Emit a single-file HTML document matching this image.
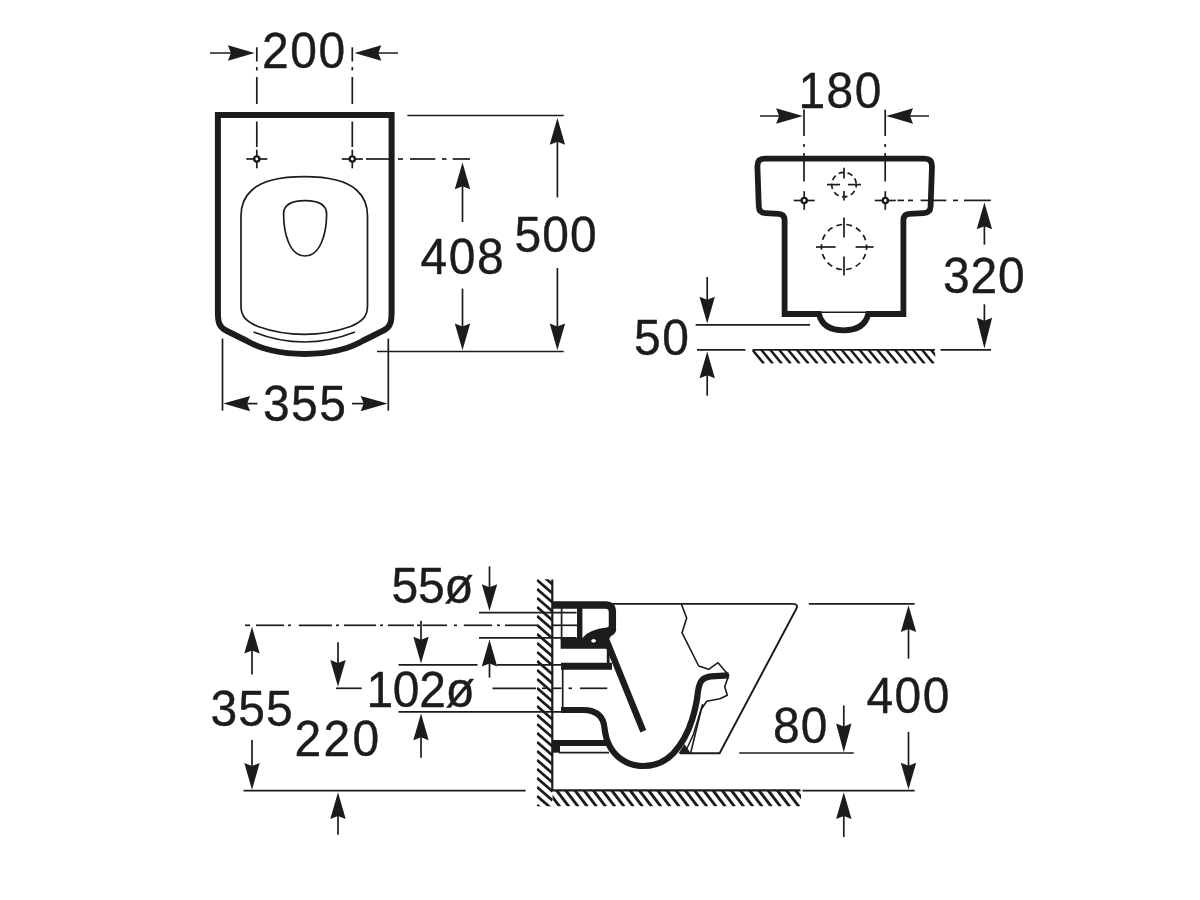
<!DOCTYPE html>
<html lang="en"><head><meta charset="utf-8"><title>Technical drawing</title>
<style>
html,body{margin:0;padding:0;background:#fff;}
body{width:1200px;height:900px;overflow:hidden;}
svg{display:block;will-change:transform;}
svg *{stroke:#1c1c1c;fill:none;stroke-linecap:butt;}
svg text{font-family:"Liberation Sans",Arial,Helvetica,sans-serif;fill:#1c1c1c;stroke:#1c1c1c;stroke-width:0.4;stroke-linejoin:round;}
svg .f{fill:#1c1c1c;stroke:none;}
</style></head><body>
<svg width="1200" height="900" viewBox="0 0 1200 900">
<g id="plan">
<line x1="256.8" y1="47.3" x2="256.8" y2="61.5" stroke-width="1.7" />
<line x1="256.8" y1="67.0" x2="256.8" y2="70.5" stroke-width="1.7" />
<line x1="256.8" y1="77.0" x2="256.8" y2="104.0" stroke-width="1.7" />
<line x1="256.8" y1="121.5" x2="256.8" y2="147.0" stroke-width="1.7" />
<line x1="352.3" y1="47.3" x2="352.3" y2="61.5" stroke-width="1.7" />
<line x1="352.3" y1="67.0" x2="352.3" y2="70.5" stroke-width="1.7" />
<line x1="352.3" y1="77.0" x2="352.3" y2="104.0" stroke-width="1.7" />
<line x1="352.3" y1="121.5" x2="352.3" y2="147.0" stroke-width="1.7" />
<circle cx="256.8" cy="159" r="2.6" style="fill:#fff" stroke-width="2.4"/>
<line x1="246.3" y1="159.0" x2="254.2" y2="159.0" stroke-width="1.7" />
<line x1="259.4" y1="159.0" x2="267.3" y2="159.0" stroke-width="1.7" />
<line x1="256.8" y1="149.7" x2="256.8" y2="156.4" stroke-width="1.7" />
<line x1="256.8" y1="161.6" x2="256.8" y2="168.3" stroke-width="1.7" />
<circle cx="352.3" cy="159" r="2.6" style="fill:#fff" stroke-width="2.4"/>
<line x1="341.8" y1="159.0" x2="349.7" y2="159.0" stroke-width="1.7" />
<line x1="354.9" y1="159.0" x2="362.8" y2="159.0" stroke-width="1.7" />
<line x1="352.3" y1="149.7" x2="352.3" y2="156.4" stroke-width="1.7" />
<line x1="352.3" y1="161.6" x2="352.3" y2="168.3" stroke-width="1.7" />
<path d="M217.90,115.1 H391.60 V312 C391.60,323 390.25,327.1 383.05,330.7 C376.75,333.9 369.75,337.4 363.45,340.5 C346.75,350.3 324.75,353.9 304.75,353.9 C284.75,353.9 262.75,350.3 246.05,340.5 C239.75,337.4 232.75,333.9 226.45,330.7 C219.25,327.1 217.90,323 217.90,312 Z" stroke-width="6.0" stroke-linejoin="miter"/>
<path d="M304.25,176.7 C280,176.7 262,181 252,190 C244,197 241,206 241,216 V306 C241,317 247,322 258,326.5 C272,331.5 288,334.4 304.25,334.4 C320.5,334.4 336.5,331.5 350.5,326.5 C361.5,322 367.5,317 367.5,306 V216 C367.5,206 364.5,197 356.5,190 C346.5,181 328.5,176.7 304.25,176.7 Z" stroke-width="1.7"/>
<path d="M253.5,332 Q304.25,352 355,332" stroke-width="1.7"/>
<path d="M305,200.6 C318,200.6 326.6,204 326.6,214 C326.6,232 321,256 305,256 C289,256 283.6,232 283.6,214 C283.6,204 292,200.6 305,200.6 Z" stroke-width="1.7"/>
<line x1="366.0" y1="159.0" x2="389.0" y2="159.0" stroke-width="1.7" />
<line x1="398.0" y1="159.0" x2="403.0" y2="159.0" stroke-width="1.7" />
<line x1="410.0" y1="159.0" x2="435.3" y2="159.0" stroke-width="1.7" />
<line x1="442.0" y1="159.0" x2="446.5" y2="159.0" stroke-width="1.7" />
<line x1="452.7" y1="159.0" x2="470.0" y2="159.0" stroke-width="1.7" />
<polygon class="f" points="254.7,53.0 227.9,45.3 230.9,53.0 227.9,60.7"/>
<line x1="249.7" y1="53.0" x2="210.0" y2="53.0" stroke-width="1.7" />
<polygon class="f" points="354.5,53.0 381.3,45.3 378.3,53.0 381.3,60.7"/>
<line x1="359.5" y1="53.0" x2="398.0" y2="53.0" stroke-width="1.7" />
<line x1="407.4" y1="115.5" x2="563.7" y2="115.5" stroke-width="1.7" />
<line x1="377.0" y1="351.5" x2="563.7" y2="351.5" stroke-width="1.7" />
<polygon class="f" points="462.5,162.5 454.8,189.3 462.5,186.3 470.2,189.3"/>
<line x1="462.5" y1="167.5" x2="462.5" y2="222.0" stroke-width="1.7" />
<polygon class="f" points="462.5,350.3 454.8,323.5 462.5,326.5 470.2,323.5"/>
<line x1="462.5" y1="345.3" x2="462.5" y2="288.6" stroke-width="1.7" />
<polygon class="f" points="557.4,118.0 549.7,144.8 557.4,141.8 565.1,144.8"/>
<line x1="557.4" y1="123.0" x2="557.4" y2="197.4" stroke-width="1.7" />
<polygon class="f" points="557.4,350.3 549.7,323.5 557.4,326.5 565.1,323.5"/>
<line x1="557.4" y1="345.3" x2="557.4" y2="268.0" stroke-width="1.7" />
<line x1="222.5" y1="338.6" x2="222.5" y2="410.7" stroke-width="1.7" />
<line x1="388.3" y1="338.6" x2="388.3" y2="410.7" stroke-width="1.7" />
<polygon class="f" points="223.3,403.6 250.1,395.9 247.1,403.6 250.1,411.3"/>
<line x1="228.3" y1="403.6" x2="257.5" y2="403.6" stroke-width="1.7" />
<polygon class="f" points="387.5,403.6 360.7,395.9 363.7,403.6 360.7,411.3"/>
<line x1="382.5" y1="403.6" x2="352.0" y2="403.6" stroke-width="1.7" />
</g>
<g id="rear">
<line x1="804.0" y1="109.6" x2="804.0" y2="136.0" stroke-width="1.7" />
<line x1="804.0" y1="144.0" x2="804.0" y2="147.0" stroke-width="1.7" />
<line x1="804.0" y1="153.0" x2="804.0" y2="181.5" stroke-width="1.7" />
<line x1="885.2" y1="109.6" x2="885.2" y2="136.0" stroke-width="1.7" />
<line x1="885.2" y1="144.0" x2="885.2" y2="147.0" stroke-width="1.7" />
<line x1="885.2" y1="153.0" x2="885.2" y2="181.5" stroke-width="1.7" />
<circle cx="804.2" cy="200.5" r="2.6" style="fill:#fff" stroke-width="2.4"/>
<line x1="793.7" y1="200.5" x2="801.6" y2="200.5" stroke-width="1.7" />
<line x1="806.8" y1="200.5" x2="814.7" y2="200.5" stroke-width="1.7" />
<line x1="804.2" y1="191.2" x2="804.2" y2="197.9" stroke-width="1.7" />
<line x1="804.2" y1="203.1" x2="804.2" y2="209.8" stroke-width="1.7" />
<circle cx="885.3" cy="200.5" r="2.6" style="fill:#fff" stroke-width="2.4"/>
<line x1="874.8" y1="200.5" x2="882.7" y2="200.5" stroke-width="1.7" />
<line x1="887.9" y1="200.5" x2="895.8" y2="200.5" stroke-width="1.7" />
<line x1="885.3" y1="191.2" x2="885.3" y2="197.9" stroke-width="1.7" />
<line x1="885.3" y1="203.1" x2="885.3" y2="209.8" stroke-width="1.7" />
<path d="M764.5,158.7 H924.5 Q932,158.7 932,166 L930.6,206.5 Q930.3,213 923.5,213.2 L909.5,213.8 Q903.4,214 903.4,220.5 V314 H868.3 C865.5,325.5 856,330.3 843.6,330.3 C831.2,330.3 821.7,325.5 818.9,314 H784.6 V220.5 Q784.6,214 778.5,213.8 L765.5,213.2 Q759,213 758.8,206.5 L757.4,166 Q757.4,158.7 764.5,158.7 Z" stroke-width="5.8" stroke-linejoin="miter"/>
<line x1="818.0" y1="312.2" x2="869.0" y2="312.2" stroke-width="1.6" />
<circle cx="844" cy="184.6" r="12.3" stroke-width="1.7" stroke-dasharray="5.5 3.6" stroke-dashoffset="2.5"/>
<line x1="827.0" y1="184.6" x2="840.0" y2="184.6" stroke-width="1.7" />
<line x1="848.0" y1="184.6" x2="861.0" y2="184.6" stroke-width="1.7" />
<line x1="844.0" y1="167.7" x2="844.0" y2="178.5" stroke-width="1.7" />
<line x1="844.0" y1="191.0" x2="844.0" y2="200.4" stroke-width="1.7" />
<circle cx="844" cy="247" r="22.6" stroke-width="1.7" stroke-dasharray="5.8 4.3" stroke-dashoffset="2.9"/>
<line x1="816.0" y1="247.0" x2="835.6" y2="247.0" stroke-width="1.7" />
<line x1="855.6" y1="247.0" x2="873.6" y2="247.0" stroke-width="1.7" />
<line x1="844.0" y1="217.5" x2="844.0" y2="237.5" stroke-width="1.7" />
<line x1="844.0" y1="256.5" x2="844.0" y2="275.5" stroke-width="1.7" />
<line x1="897.5" y1="200.4" x2="904.0" y2="200.4" stroke-width="1.7" />
<line x1="908.0" y1="200.4" x2="913.0" y2="200.4" stroke-width="1.7" />
<line x1="920.6" y1="200.4" x2="946.3" y2="200.4" stroke-width="1.7" />
<line x1="953.0" y1="200.4" x2="958.0" y2="200.4" stroke-width="1.7" />
<line x1="964.0" y1="200.4" x2="990.8" y2="200.4" stroke-width="1.7" />
<polygon class="f" points="802.9,116.0 776.1,108.3 779.1,116.0 776.1,123.7"/>
<line x1="797.9" y1="116.0" x2="760.0" y2="116.0" stroke-width="1.7" />
<polygon class="f" points="886.2,116.0 913.0,108.3 910.0,116.0 913.0,123.7"/>
<line x1="891.2" y1="116.0" x2="929.0" y2="116.0" stroke-width="1.7" />
<polygon class="f" points="984.4,202.4 976.7,229.2 984.4,226.2 992.1,229.2"/>
<line x1="984.4" y1="207.4" x2="984.4" y2="244.6" stroke-width="1.7" />
<polygon class="f" points="984.4,348.5 976.7,317.7 984.4,320.7 992.1,317.7"/>
<line x1="984.4" y1="343.5" x2="984.4" y2="304.3" stroke-width="1.7" />
<line x1="697.0" y1="349.9" x2="745.4" y2="349.9" stroke-width="1.7" />
<line x1="752.6" y1="349.9" x2="935.0" y2="349.9" stroke-width="1.7" />
<line x1="940.6" y1="349.9" x2="991.0" y2="349.9" stroke-width="1.7" />
<clipPath id="cr"><rect x="752.4" y="350" width="182.8" height="13.6" style="stroke:none"/></clipPath>
<g clip-path="url(#cr)">
<line x1="751.7" y1="349.0" x2="764.0" y2="363.8" stroke-width="2.5" />
<line x1="760.6" y1="349.0" x2="772.9" y2="363.8" stroke-width="2.5" />
<line x1="769.6" y1="349.0" x2="781.9" y2="363.8" stroke-width="2.5" />
<line x1="778.5" y1="349.0" x2="790.8" y2="363.8" stroke-width="2.5" />
<line x1="787.4" y1="349.0" x2="799.7" y2="363.8" stroke-width="2.5" />
<line x1="796.3" y1="349.0" x2="808.6" y2="363.8" stroke-width="2.5" />
<line x1="805.3" y1="349.0" x2="817.6" y2="363.8" stroke-width="2.5" />
<line x1="814.2" y1="349.0" x2="826.5" y2="363.8" stroke-width="2.5" />
<line x1="823.1" y1="349.0" x2="835.4" y2="363.8" stroke-width="2.5" />
<line x1="832.1" y1="349.0" x2="844.4" y2="363.8" stroke-width="2.5" />
<line x1="841.0" y1="349.0" x2="853.3" y2="363.8" stroke-width="2.5" />
<line x1="849.9" y1="349.0" x2="862.2" y2="363.8" stroke-width="2.5" />
<line x1="858.9" y1="349.0" x2="871.2" y2="363.8" stroke-width="2.5" />
<line x1="867.8" y1="349.0" x2="880.1" y2="363.8" stroke-width="2.5" />
<line x1="876.7" y1="349.0" x2="889.0" y2="363.8" stroke-width="2.5" />
<line x1="885.6" y1="349.0" x2="897.9" y2="363.8" stroke-width="2.5" />
<line x1="894.6" y1="349.0" x2="906.9" y2="363.8" stroke-width="2.5" />
<line x1="903.5" y1="349.0" x2="915.8" y2="363.8" stroke-width="2.5" />
<line x1="912.4" y1="349.0" x2="924.7" y2="363.8" stroke-width="2.5" />
<line x1="921.4" y1="349.0" x2="933.7" y2="363.8" stroke-width="2.5" />
<line x1="930.3" y1="349.0" x2="942.6" y2="363.8" stroke-width="2.5" />
</g>
<line x1="695.7" y1="324.9" x2="810.0" y2="324.9" stroke-width="1.7" />
<polygon class="f" points="707.2,323.5 699.5,296.7 707.2,299.7 714.9,296.7"/>
<line x1="707.2" y1="318.5" x2="707.2" y2="277.0" stroke-width="1.7" />
<polygon class="f" points="707.2,351.5 699.5,378.3 707.2,375.3 714.9,378.3"/>
<line x1="707.2" y1="356.5" x2="707.2" y2="395.7" stroke-width="1.7" />
</g>
<g id="side">
<line x1="245.0" y1="625.3" x2="250.0" y2="625.3" stroke-width="1.7" />
<line x1="256.0" y1="625.3" x2="284.0" y2="625.3" stroke-width="1.7" />
<line x1="288.0" y1="625.3" x2="291.0" y2="625.3" stroke-width="1.7" />
<line x1="298.8" y1="625.3" x2="332.0" y2="625.3" stroke-width="1.7" />
<line x1="336.0" y1="625.3" x2="339.0" y2="625.3" stroke-width="1.7" />
<line x1="344.0" y1="625.3" x2="376.0" y2="625.3" stroke-width="1.7" />
<line x1="380.0" y1="625.3" x2="383.0" y2="625.3" stroke-width="1.7" />
<line x1="388.0" y1="625.3" x2="414.0" y2="625.3" stroke-width="1.7" />
<line x1="417.0" y1="625.3" x2="420.0" y2="625.3" stroke-width="1.7" />
<line x1="422.5" y1="625.3" x2="447.0" y2="625.3" stroke-width="1.7" />
<line x1="454.0" y1="625.3" x2="457.0" y2="625.3" stroke-width="1.7" />
<line x1="463.8" y1="625.3" x2="492.0" y2="625.3" stroke-width="1.7" />
<line x1="497.0" y1="625.3" x2="500.0" y2="625.3" stroke-width="1.7" />
<line x1="505.0" y1="625.3" x2="537.0" y2="625.3" stroke-width="1.7" />
<line x1="552.4" y1="625.3" x2="577.0" y2="625.3" stroke-width="1.7" />
<polygon class="f" points="252.0,626.7 244.3,653.5 252.0,650.5 259.7,653.5"/>
<line x1="252.0" y1="631.7" x2="252.0" y2="674.4" stroke-width="1.7" />
<polygon class="f" points="252.0,789.8 244.3,763.0 252.0,766.0 259.7,763.0"/>
<line x1="252.0" y1="784.8" x2="252.0" y2="740.0" stroke-width="1.7" />
<line x1="243.6" y1="790.6" x2="525.6" y2="790.6" stroke-width="1.7" />
<polygon class="f" points="338.0,686.7 330.3,659.9 338.0,662.9 345.7,659.9"/>
<line x1="338.0" y1="681.7" x2="338.0" y2="642.2" stroke-width="1.7" />
<line x1="336.0" y1="688.3" x2="361.7" y2="688.3" stroke-width="1.7" />
<polygon class="f" points="338.0,792.2 330.3,819.0 338.0,816.0 345.7,819.0"/>
<line x1="338.0" y1="797.2" x2="338.0" y2="834.7" stroke-width="1.7" />
<polygon class="f" points="421.0,663.6 413.3,636.8 421.0,639.8 428.7,636.8"/>
<line x1="421.0" y1="658.6" x2="421.0" y2="620.8" stroke-width="1.7" />
<polygon class="f" points="421.0,713.4 413.3,740.2 421.0,737.2 428.7,740.2"/>
<line x1="421.0" y1="718.4" x2="421.0" y2="757.8" stroke-width="1.7" />
<line x1="398.5" y1="664.8" x2="477.5" y2="664.8" stroke-width="1.7" />
<line x1="497.0" y1="664.8" x2="562.0" y2="664.8" stroke-width="1.7" />
<line x1="398.5" y1="711.8" x2="562.0" y2="711.8" stroke-width="1.7" />
<polygon class="f" points="489.5,611.0 481.8,584.2 489.5,587.2 497.2,584.2"/>
<line x1="489.5" y1="606.0" x2="489.5" y2="566.4" stroke-width="1.7" />
<polygon class="f" points="489.5,639.6 481.8,666.4 489.5,663.4 497.2,666.4"/>
<line x1="489.5" y1="644.6" x2="489.5" y2="677.6" stroke-width="1.7" />
<line x1="479.0" y1="612.7" x2="576.5" y2="612.7" stroke-width="1.7" />
<line x1="479.0" y1="637.8" x2="576.5" y2="637.8" stroke-width="1.7" />
<line x1="492.5" y1="688.3" x2="536.0" y2="688.3" stroke-width="1.7" />
<line x1="542.0" y1="688.3" x2="546.0" y2="688.3" stroke-width="1.7" />
<line x1="552.0" y1="688.3" x2="561.5" y2="688.3" stroke-width="1.7" />
<line x1="568.5" y1="688.3" x2="572.0" y2="688.3" stroke-width="1.7" />
<line x1="580.0" y1="688.3" x2="607.3" y2="688.3" stroke-width="1.7" />
<clipPath id="cw"><rect x="536.8" y="579.3" width="15.8" height="227" style="stroke:none"/></clipPath>
<clipPath id="cf"><rect x="552.6" y="790" width="248.4" height="16.3" style="stroke:none"/></clipPath>
<g clip-path="url(#cw)">
<line x1="537.0" y1="562.0" x2="552.6" y2="575.4" stroke-width="2.8" />
<line x1="537.0" y1="571.0" x2="552.6" y2="584.4" stroke-width="2.8" />
<line x1="537.0" y1="580.0" x2="552.6" y2="593.4" stroke-width="2.8" />
<line x1="537.0" y1="589.0" x2="552.6" y2="602.4" stroke-width="2.8" />
<line x1="537.0" y1="598.0" x2="552.6" y2="611.4" stroke-width="2.8" />
<line x1="537.0" y1="607.0" x2="552.6" y2="620.4" stroke-width="2.8" />
<line x1="537.0" y1="616.0" x2="552.6" y2="629.4" stroke-width="2.8" />
<line x1="537.0" y1="625.0" x2="552.6" y2="638.4" stroke-width="2.8" />
<line x1="537.0" y1="634.0" x2="552.6" y2="647.4" stroke-width="2.8" />
<line x1="537.0" y1="643.0" x2="552.6" y2="656.4" stroke-width="2.8" />
<line x1="537.0" y1="652.0" x2="552.6" y2="665.4" stroke-width="2.8" />
<line x1="537.0" y1="661.0" x2="552.6" y2="674.4" stroke-width="2.8" />
<line x1="537.0" y1="670.0" x2="552.6" y2="683.4" stroke-width="2.8" />
<line x1="537.0" y1="679.0" x2="552.6" y2="692.4" stroke-width="2.8" />
<line x1="537.0" y1="688.0" x2="552.6" y2="701.4" stroke-width="2.8" />
<line x1="537.0" y1="697.0" x2="552.6" y2="710.4" stroke-width="2.8" />
<line x1="537.0" y1="706.0" x2="552.6" y2="719.4" stroke-width="2.8" />
<line x1="537.0" y1="715.0" x2="552.6" y2="728.4" stroke-width="2.8" />
<line x1="537.0" y1="724.0" x2="552.6" y2="737.4" stroke-width="2.8" />
<line x1="537.0" y1="733.0" x2="552.6" y2="746.4" stroke-width="2.8" />
<line x1="537.0" y1="742.0" x2="552.6" y2="755.4" stroke-width="2.8" />
<line x1="537.0" y1="751.0" x2="552.6" y2="764.4" stroke-width="2.8" />
<line x1="537.0" y1="760.0" x2="552.6" y2="773.4" stroke-width="2.8" />
<line x1="537.0" y1="769.0" x2="552.6" y2="782.4" stroke-width="2.8" />
<line x1="537.0" y1="778.0" x2="552.6" y2="791.4" stroke-width="2.8" />
<line x1="537.0" y1="787.0" x2="552.6" y2="800.4" stroke-width="2.8" />
<line x1="537.0" y1="796.0" x2="552.6" y2="809.4" stroke-width="2.8" />
<line x1="537.0" y1="805.0" x2="552.6" y2="818.4" stroke-width="2.8" />
</g>
<g clip-path="url(#cf)">
<line x1="537.5" y1="789.5" x2="550.7" y2="806.8" stroke-width="2.9" />
<line x1="546.7" y1="789.5" x2="559.9" y2="806.8" stroke-width="2.9" />
<line x1="555.9" y1="789.5" x2="569.1" y2="806.8" stroke-width="2.9" />
<line x1="565.1" y1="789.5" x2="578.3" y2="806.8" stroke-width="2.9" />
<line x1="574.3" y1="789.5" x2="587.5" y2="806.8" stroke-width="2.9" />
<line x1="583.5" y1="789.5" x2="596.7" y2="806.8" stroke-width="2.9" />
<line x1="592.7" y1="789.5" x2="605.9" y2="806.8" stroke-width="2.9" />
<line x1="601.9" y1="789.5" x2="615.1" y2="806.8" stroke-width="2.9" />
<line x1="611.1" y1="789.5" x2="624.3" y2="806.8" stroke-width="2.9" />
<line x1="620.3" y1="789.5" x2="633.5" y2="806.8" stroke-width="2.9" />
<line x1="629.5" y1="789.5" x2="642.7" y2="806.8" stroke-width="2.9" />
<line x1="638.7" y1="789.5" x2="651.9" y2="806.8" stroke-width="2.9" />
<line x1="647.9" y1="789.5" x2="661.1" y2="806.8" stroke-width="2.9" />
<line x1="657.1" y1="789.5" x2="670.3" y2="806.8" stroke-width="2.9" />
<line x1="666.3" y1="789.5" x2="679.5" y2="806.8" stroke-width="2.9" />
<line x1="675.5" y1="789.5" x2="688.7" y2="806.8" stroke-width="2.9" />
<line x1="684.7" y1="789.5" x2="697.9" y2="806.8" stroke-width="2.9" />
<line x1="693.9" y1="789.5" x2="707.1" y2="806.8" stroke-width="2.9" />
<line x1="703.1" y1="789.5" x2="716.3" y2="806.8" stroke-width="2.9" />
<line x1="712.3" y1="789.5" x2="725.5" y2="806.8" stroke-width="2.9" />
<line x1="721.5" y1="789.5" x2="734.7" y2="806.8" stroke-width="2.9" />
<line x1="730.7" y1="789.5" x2="743.9" y2="806.8" stroke-width="2.9" />
<line x1="739.9" y1="789.5" x2="753.1" y2="806.8" stroke-width="2.9" />
<line x1="749.1" y1="789.5" x2="762.3" y2="806.8" stroke-width="2.9" />
<line x1="758.3" y1="789.5" x2="771.5" y2="806.8" stroke-width="2.9" />
<line x1="767.5" y1="789.5" x2="780.7" y2="806.8" stroke-width="2.9" />
<line x1="776.7" y1="789.5" x2="789.9" y2="806.8" stroke-width="2.9" />
<line x1="785.9" y1="789.5" x2="799.1" y2="806.8" stroke-width="2.9" />
<line x1="795.1" y1="789.5" x2="808.3" y2="806.8" stroke-width="2.9" />
</g>
<line x1="552.3" y1="579.5" x2="552.3" y2="790.4" stroke-width="2.2" />
<line x1="551.2" y1="790.4" x2="800.5" y2="790.4" stroke-width="2.2" />
<line x1="802.5" y1="790.6" x2="914.7" y2="790.6" stroke-width="1.7" />
<path d="M552.6,603.9 H793 Q798.8,603.9 796.2,609 L719.6,753.3 H680" stroke-width="1.9"/>
<path d="M552.3,605 H605.5 Q612.4,605 612.4,612 V626 Q612.4,630.6 607,631.2 C598,632.2 590.5,634 585.5,640" stroke-width="7.3"/>
<line x1="579.7" y1="606.0" x2="579.7" y2="640.0" stroke-width="5.4" />
<path class="f" d="M583,640 C588,634 596,631 606,629.5 L616,627 L616.2,630 Q615.5,634 611,636 L608.5,640 Z"/>
<line x1="561.6" y1="608.0" x2="561.6" y2="640.0" stroke-width="1.7" />
<path class="f" d="M560.6,638 H603 L609,648.8 H560.6 Z"/>
<ellipse cx="593.6" cy="640.8" rx="2.2" ry="1.6" style="fill:#fff;stroke:none"/>
<path d="M605.5,638 L643.3,731.3" stroke-width="6.4"/>
<line x1="608.2" y1="648.0" x2="608.2" y2="664.0" stroke-width="2.8" />
<path d="M561,666.3 H612" stroke-width="7"/>
<line x1="562.7" y1="669.0" x2="562.7" y2="707.5" stroke-width="1.7" />
<path d="M561,710 H583 C597,710 603.5,717 604.5,728 C606,742 611,752 621,759 C628,764 635,766 643.3,766 C655,766 666,761 673.3,753.3 C682,744 688.5,731 692,720 C695,710 696.5,703 697.3,697 C698,690 698.5,685 701,681.5 C703.5,678 706.5,676.8 711,676.4 L728.7,675.3" stroke-width="6.2"/>
<path d="M552.6,743 H607" stroke-width="6.0"/>
<path class="f" d="M552.6,740 H560 V752.7 H552.6 Z"/>
<line x1="559.0" y1="752.7" x2="609.0" y2="752.7" stroke-width="1.7" />
<path d="M681.3,604 L686.7,618 L682,632.7 L698.7,666 L708.7,669.3 L718,662.7 L728.7,675.3 L724.7,686.7 L727.3,695.3 L720,698.7 L706.7,701.3 L701.3,709.3 L690.7,752.7" stroke-width="1.6" stroke-linejoin="round"/>
<path d="M702.7,704 L693.3,734.7 L685.3,752" stroke-width="1.5"/>
<path class="f" d="M684.5,744 L690.8,753.6 L678.5,753.6 Z"/>
<ellipse cx="593.6" cy="640.8" rx="2.2" ry="1.6" style="fill:#fff;stroke:none"/>
<line x1="739.2" y1="753.0" x2="853.8" y2="753.0" stroke-width="1.7" />
<polygon class="f" points="843.8,752.2 836.1,723.6 843.8,726.6 851.5,723.6"/>
<line x1="843.8" y1="747.2" x2="843.8" y2="705.4" stroke-width="1.7" />
<polygon class="f" points="843.8,792.2 836.1,819.0 843.8,816.0 851.5,819.0"/>
<line x1="843.8" y1="797.2" x2="843.8" y2="837.0" stroke-width="1.7" />
<line x1="808.8" y1="603.8" x2="914.7" y2="603.8" stroke-width="1.7" />
<polygon class="f" points="908.5,605.3 900.8,632.1 908.5,629.1 916.2,632.1"/>
<line x1="908.5" y1="610.3" x2="908.5" y2="658.7" stroke-width="1.7" />
<polygon class="f" points="908.5,789.6 900.8,762.8 908.5,765.8 916.2,762.8"/>
<line x1="908.5" y1="784.6" x2="908.5" y2="731.8" stroke-width="1.7" />
</g>
<g id="labels">
<text id="t200" transform="translate(262.00 68.40) scale(0.95 1)" font-size="50.5" letter-spacing="1.60">200</text>
<text id="t408" transform="translate(420.50 273.80) scale(0.95 1)" font-size="50.5" letter-spacing="1.60">408</text>
<text id="t500" transform="translate(514.50 252.20) scale(0.95 1)" font-size="50.5" letter-spacing="1.10">500</text>
<text id="t355a" transform="translate(263.00 420.90) scale(0.95 1)" font-size="50.5" letter-spacing="1.50">355</text>
<text id="t180" transform="translate(798.50 108.00) scale(0.95 1)" font-size="50.5" letter-spacing="1.50">180</text>
<text id="t320" transform="translate(943.00 293.40) scale(0.95 1)" font-size="50.5" letter-spacing="0.80">320</text>
<text id="t50" transform="translate(634.00 354.70) scale(0.95 1)" font-size="50.5" letter-spacing="1.60">50</text>
<text id="t355b" transform="translate(210.50 725.50) scale(0.95 1)" font-size="50.5" letter-spacing="1.10">355</text>
<text id="t220" transform="translate(294.50 755.90) scale(0.95 1)" font-size="50.5" letter-spacing="2.50">220</text>
<text id="t102" transform="translate(366.50 707.20) scale(0.95 1)" font-size="50.5" letter-spacing="-0.33">102ø</text>
<text id="t55" transform="translate(391.50 603.40) scale(0.95 1)" font-size="50.5" letter-spacing="-0.30">55ø</text>
<text id="t80" transform="translate(773.00 743.40) scale(0.95 1)" font-size="50.5" letter-spacing="1.20">80</text>
<text id="t400" transform="translate(866.50 713.30) scale(0.95 1)" font-size="50.5" letter-spacing="1.50">400</text>
</g>
</svg>
</body></html>
